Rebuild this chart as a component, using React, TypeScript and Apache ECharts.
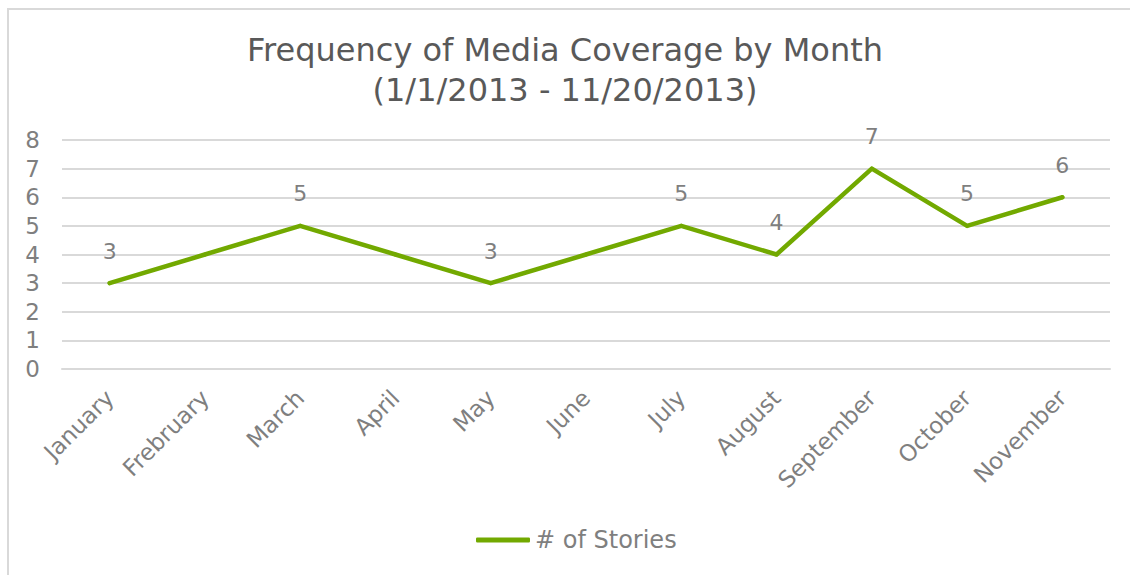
import React, { useEffect, useRef } from "react";
import * as echarts from "echarts";

const months = ["January", "Frebruary", "March", "April", "May", "June", "July", "August", "September", "October", "November"];
const stories = [3, 4, 5, 4, 3, 4, 5, 4, 7, 5, 6];
const showLabel = [true, false, true, false, true, false, true, true, true, true, true];
const seriesName = "# of Stories";
const titleText = "Frequency of Media Coverage by Month\n(1/1/2013 - 11/20/2013)";

export default function App() {
  const ref = useRef<HTMLDivElement>(null);
  useEffect(() => {
    if (!ref.current) return;
    const chart = echarts.init(ref.current, null, { renderer: "svg" });
    const font = "'DejaVu Sans', Verdana, sans-serif";
    const green = "#72a900";
    chart.setOption({
      animation: false,
      textStyle: { fontFamily: font },
      title: {
        text: titleText,
        left: "center",
        top: 25,
        textStyle: { fontFamily: font, fontSize: 32, fontWeight: "normal", color: "#595959", lineHeight: 40 },
      },
      legend: {
        bottom: 18,
        left: 471,
        itemWidth: 54,
        itemHeight: 5,
        data: [{ name: seriesName, icon: "roundRect", itemStyle: { color: green } }],
        textStyle: { fontFamily: font, fontSize: 24, color: "#7f7f7f" },
      },
      grid: { left: 62, right: 20, top: 140, bottom: 206, containLabel: false },
      xAxis: {
        type: "category",
        data: months,
        boundaryGap: true,
        axisLine: { show: true, lineStyle: { color: "#d9d9d9", width: 2 } },
        axisTick: { show: false },
        axisLabel: { rotate: 45, margin: 25, fontSize: 23, color: "#7f7f7f", fontFamily: font, interval: 0 },
      },
      yAxis: {
        type: "value",
        min: 0,
        max: 8,
        interval: 1,
        axisLine: { show: false },
        axisTick: { show: false },
        axisLabel: { fontSize: 23, color: "#7f7f7f", fontFamily: font, margin: 22 },
        splitLine: { lineStyle: { color: "#d9d9d9", width: 2 } },
      },
      series: [
        {
          name: seriesName,
          type: "line",
          data: stories.map((v, i) => ({ value: v, label: { show: showLabel[i] } })),
          symbol: "circle",
          symbolSize: 4,
          showSymbol: true,
          lineStyle: { color: green, width: 4.5, cap: "round", join: "round" },
          itemStyle: { color: green, borderWidth: 0 },
          label: { show: true, position: "top", distance: 19, fontSize: 22, color: "#7f7f7f", fontFamily: font },
        },
      ],
    });
    return () => chart.dispose();
  }, []);
  return (
    <div style={{ position: "fixed", left: 0, top: 0, width: 1130, height: 575, overflow: "hidden", background: "#fff" }}>
      <div style={{ position: "absolute", left: 7, top: 8, width: 1200, height: 600, border: "2px solid #d9d9d9" }} />
      <div ref={ref} style={{ position: "absolute", left: 0, top: 0, width: 1130, height: 575 }} />
    </div>
  );
}
